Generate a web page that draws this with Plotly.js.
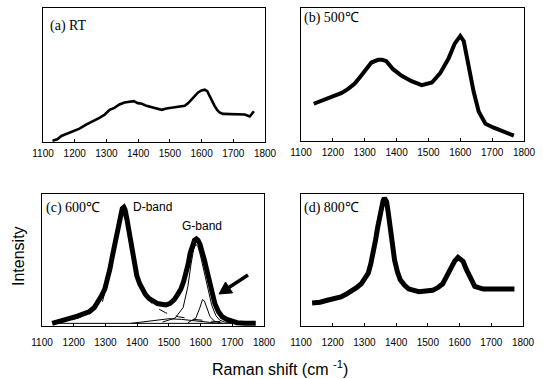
<!DOCTYPE html>
<html>
<head>
<meta charset="utf-8">
<script src="https://cdn.plot.ly/plotly-3.0.1.min.js"></script>
<style>html,body{margin:0;padding:0;background:#fff;}#chart{width:543px;height:379px;}</style>
</head>
<body>
<div id="chart"></div>
<script>
// ---- data (Raman shift in cm^-1, intensity in arbitrary units 0..1 of each panel) ----
const tickValues = [1100, 1200, 1300, 1400, 1500, 1600, 1700, 1800];
const tickLabels = ['1100', '1200', '1300', '1400', '1500', '1600', '1700', '1800'];

// (a) RT
const aX = [1130,1145,1158,1175,1194,1215,1236,1258,1278,1295,1310,1325,1341,1357,1373,1386,1399,1412,1426,1442,1458,1474,1489,1505,1521,1535,1547,1558,1568,1579,1589,1600,1610,1618,1626,1634,1641,1649,1657,1667,1678,1700,1720,1736,1752,1765];
const aY = [0.01,0.02,0.045,0.06,0.08,0.10,0.13,0.155,0.18,0.205,0.24,0.255,0.28,0.295,0.30,0.305,0.29,0.285,0.27,0.26,0.245,0.24,0.25,0.255,0.26,0.265,0.27,0.29,0.32,0.345,0.37,0.385,0.39,0.38,0.34,0.30,0.27,0.24,0.22,0.21,0.21,0.205,0.21,0.205,0.19,0.23];

// (b) 500 C
const bX = [1140,1162,1184,1205,1226,1247,1268,1285,1300,1321,1342,1355,1368,1389,1416,1447,1479,1495,1511,1537,1563,1582,1592,1600,1611,1626,1642,1658,1679,1705,1742,1768];
const bY = [0.28,0.30,0.32,0.34,0.36,0.39,0.43,0.48,0.53,0.59,0.61,0.61,0.60,0.54,0.49,0.45,0.42,0.43,0.44,0.51,0.62,0.73,0.77,0.79,0.75,0.56,0.37,0.22,0.13,0.10,0.06,0.04];

// (c) 600 C measured spectrum
const cX = [1132,1150,1170,1190,1212,1232,1250,1265,1276,1288,1298,1306,1314,1322,1330,1337,1343,1348,1353,1358,1362,1367,1373,1380,1386,1393,1399,1408,1416,1426,1437,1450,1464,1477,1490,1503,1517,1528,1538,1547,1555,1561,1567,1574,1581,1587,1592,1598,1604,1612,1619,1627,1635,1645,1656,1668,1683,1700,1715,1740,1774];
const cY = [0.02,0.03,0.045,0.06,0.075,0.09,0.11,0.14,0.18,0.23,0.28,0.35,0.43,0.53,0.63,0.72,0.80,0.86,0.89,0.90,0.88,0.82,0.73,0.62,0.53,0.45,0.38,0.32,0.28,0.24,0.21,0.19,0.17,0.165,0.16,0.17,0.20,0.24,0.28,0.34,0.40,0.47,0.55,0.61,0.65,0.66,0.65,0.62,0.58,0.50,0.43,0.34,0.25,0.17,0.11,0.07,0.05,0.035,0.025,0.02,0.02];
// (c) fitted components
const cDbandX = [1140,1200,1250,1290,1320,1340,1355,1370,1390,1410,1430,1460,1490,1530,1580,1640,1700,1770];
const cDbandY = [0.02,0.05,0.09,0.18,0.45,0.72,0.86,0.74,0.45,0.30,0.21,0.14,0.10,0.07,0.05,0.035,0.03,0.025];
const cGbandX = [1480,1520,1545,1560,1570,1578,1585,1592,1600,1610,1622,1635,1648,1660,1675,1700,1770];
const cGbandY = [0.03,0.06,0.14,0.30,0.47,0.58,0.62,0.60,0.53,0.42,0.29,0.16,0.08,0.045,0.03,0.025,0.02];
const cD2bandX = [1560,1585,1598,1606,1612,1620,1630,1645,1670];
const cD2bandY = [0.025,0.06,0.14,0.20,0.19,0.13,0.07,0.035,0.02];
const cD3bandX = [1380,1420,1460,1500,1540,1580,1620,1660];
const cD3bandY = [0.02,0.03,0.045,0.055,0.05,0.04,0.03,0.02];
const cBaseX = [1140,1770];
const cBaseY = [0.02,0.02];

// (d) 800 C
const dX = [1135,1160,1183,1205,1226,1242,1258,1275,1290,1302,1312,1320,1328,1335,1342,1348,1354,1359,1363,1367,1370,1375,1381,1388,1395,1404,1413,1426,1440,1456,1472,1493,1515,1531,1547,1560,1573,1584,1595,1603,1611,1621,1632,1640,1648,1660,1675,1700,1728,1750,1773];
const dY = [0.175,0.18,0.195,0.205,0.22,0.24,0.26,0.29,0.32,0.36,0.40,0.47,0.55,0.65,0.75,0.83,0.90,0.95,0.97,0.96,0.94,0.86,0.75,0.62,0.50,0.41,0.35,0.31,0.28,0.27,0.26,0.265,0.27,0.29,0.32,0.38,0.45,0.49,0.52,0.51,0.49,0.43,0.37,0.33,0.30,0.29,0.28,0.28,0.28,0.285,0.28];

const panelLabels = ['(a) RT', '(b) 500℃', '(c) 600℃', '(d) 800℃'];
const bandLabels = ['D-band', 'G-band'];
const xTitle = 'Raman shift (cm <sup>-1</sup>)';
const yTitle = 'Intensity';

// ---- rendering ----
const W = 543, H = 379;
const px = v => v / W;
const py = v => 1 - v / H;

function line(x, y, xa, ya, w, dash) {
  return {x: x, y: y, xaxis: xa, yaxis: ya, type: 'scatter', mode: 'lines',
          line: {color: '#000', width: w, dash: dash || 'solid', shape: 'linear'},
          hoverinfo: 'skip', showlegend: false};
}

const traces = [
  line(aX, aY, 'x', 'y', 2.6),
  line(bX, bY, 'x2', 'y2', 4),
  line(cBaseX, cBaseY, 'x3', 'y3', 1),
  line(cD3bandX, cD3bandY, 'x3', 'y3', 1),
  line(cD2bandX, cD2bandY, 'x3', 'y3', 1),
  line(cX, cY, 'x3', 'y3', 5),
  line(cGbandX, cGbandY, 'x3', 'y3', 1, 'solid'),
  line(cDbandX, cDbandY, 'x3', 'y3', 1, 'dash'),
  line(dX, dY, 'x4', 'y4', 5)
];

const tickFont = {family: 'Liberation Sans Narrow, Liberation Sans, Arial, sans-serif', size: 10, color: '#000'};

function xAxis(d0, d1, anchor, standoff) {
  return {domain: [px(d0), px(d1)], anchor: anchor, range: [1100, 1800],
          tickmode: 'array', tickvals: tickValues, ticktext: tickLabels,
          ticks: 'inside', ticklen: 3, tickwidth: 1, tickcolor: '#000',
          showline: true, mirror: true, linecolor: '#000', linewidth: 1,
          showgrid: false, zeroline: false, tickfont: tickFont,
          ticklabelstandoff: standoff, fixedrange: true};
}
function yAxis(t, b, anchor) {
  return {domain: [py(b), py(t)], anchor: anchor, range: [0, 1],
          showticklabels: false, ticks: '', showline: true, mirror: true,
          linecolor: '#000', linewidth: 1, showgrid: false, zeroline: false, fixedrange: true};
}

const serif = {family: 'Liberation Serif, Times New Roman, serif', size: 14, color: '#000'};
const sans = {family: 'Liberation Sans, Arial, sans-serif', size: 12, color: '#000'};

function txt(text, x, y, font, xanchor, extra) {
  return Object.assign({text: text, x: px(x), y: py(y), xref: 'paper', yref: 'paper',
          xanchor: xanchor || 'left', yanchor: 'middle', showarrow: false, font: font}, extra || {});
}

// arrow in panel (c): shaft + filled head (paper coordinates from pixel positions)
const tail = [248, 275], head = [219, 294];
const dx = head[0] - tail[0], dy = head[1] - tail[1];
const len = Math.hypot(dx, dy), ux = dx / len, uy = dy / len;
const hl = 12, hw = 6.5;
const bc = [head[0] - hl * ux, head[1] - hl * uy];
const p1 = [bc[0] - hw * uy, bc[1] + hw * ux], p2 = [bc[0] + hw * uy, bc[1] - hw * ux];
const P = p => px(p[0]) + ',' + py(p[1]);

const layout = {
  width: W, height: H,
  margin: {l: 0, r: 0, t: 0, b: 0},
  paper_bgcolor: '#fff', plot_bgcolor: '#fff',
  showlegend: false,
  xaxis: xAxis(43, 265, 'y', 2),
  yaxis: yAxis(8, 142, 'x'),
  xaxis2: xAxis(301, 524, 'y2', 2),
  yaxis2: yAxis(8, 141, 'x2'),
  xaxis3: xAxis(42, 264, 'y3', 7),
  yaxis3: yAxis(194, 326, 'x3'),
  xaxis4: xAxis(301, 523, 'y4', 7),
  yaxis4: yAxis(194, 326, 'x4'),
  shapes: [
    {type: 'line', xref: 'paper', yref: 'paper', x0: px(tail[0]), y0: py(tail[1]), x1: px(bc[0] + 2 * ux), y1: py(bc[1] + 2 * uy),
     line: {color: '#000', width: 3.5}},
    {type: 'path', xref: 'paper', yref: 'paper', path: 'M' + P(head) + ' L' + P(p1) + ' L' + P(p2) + ' Z',
     fillcolor: '#000', line: {color: '#000', width: 1}}
  ],
  annotations: [
    txt(panelLabels[0], 48, 26, serif),
    txt(panelLabels[1], 302, 18, serif),
    txt(panelLabels[2], 44, 208, serif),
    txt(panelLabels[3], 302, 208, serif),
    txt(bandLabels[0], 131, 207, sans),
    txt(bandLabels[1], 180, 226, sans),
    txt(yTitle, 18, 256, {family: 'Liberation Sans, Arial, sans-serif', size: 16, color: '#000'}, 'center', {textangle: -90}),
    txt(xTitle, 280, 368, {family: 'Liberation Sans, Arial, sans-serif', size: 16, color: '#000'}, 'center')
  ]
};

Plotly.newPlot('chart', traces, layout, {staticPlot: true, displayModeBar: false});
</script>
</body>
</html>
